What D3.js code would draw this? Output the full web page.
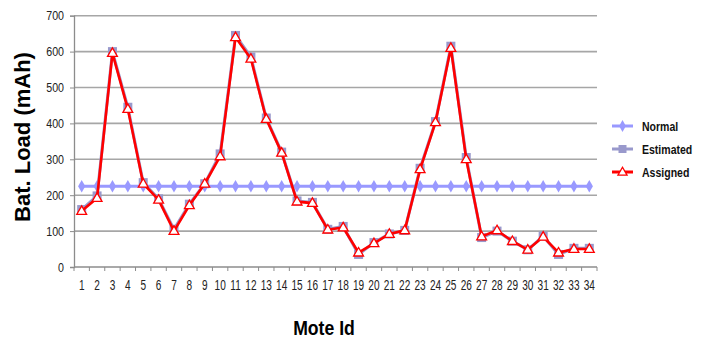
<!DOCTYPE html>
<meta charset="utf-8">
<style>
  body { margin: 0; background: #fff; }
  svg { display: block; }
</style>
<svg width="705" height="340"></svg>

<script src="https://d3js.org/d3.v7.min.js"></script>
<script>
var moteIds = [1,2,3,4,5,6,7,8,9,10,11,12,13,14,15,16,17,18,19,20,21,22,23,24,25,26,27,28,29,30,31,32,33,34]
var normal = [225,225,225,225,225,225,225,225,225,225,225,225,225,225,225,225,225,225,225,225,225,225,225,225,225,225,225,225,225,225,225,225,225,225]
var estimated = [160,198,600,445,235,190,105,175,232,315,645,585,415,320,184,180,105,113,35,68,92,102,275,405,615,305,82,100,72,48,86,35,52,52]
var assigned = [156,192,596,440,232,187,100,172,232,308,640,580,412,318,182,178,104,110,40,66,92,102,272,403,610,300,85,102,72,48,84,40,50,50]
var yTicks = [0,100,200,300,400,500,600,700]

// no narrow font installed, so squeeze Liberation Sans sideways
var font = "'Liberation Sans', Arial, sans-serif"

var svg = d3.select('svg')

var x = d3.scaleBand().domain(moteIds).range([74, 597])
var y = d3.scaleLinear().domain([0, 700]).range([267, 15.7])
function cx(d, i) { return x(moteIds[i]) + x.bandwidth() / 2 }

// grid
svg.append('g').selectAll('line')
  .data(yTicks.slice(1))
  .enter().append('line')
    .attr('x1', 74).attr('x2', 597)
    .attr('y1', function (d) { return y(d) }).attr('y2', function (d) { return y(d) })
    .attr('stroke', '#a6a6a6').attr('stroke-width', 1.6)

// y axis
var yAxis = svg.append('g')
  .attr('transform', 'translate(74,0)')
  .call(d3.axisLeft(y).tickValues(yTicks).tickSize(4).tickPadding(0))
yAxis.select('.domain').attr('stroke', '#8c8c8c').attr('stroke-width', 1.3)
yAxis.selectAll('.tick line').attr('stroke', '#8c8c8c')
yAxis.selectAll('text')
  .attr('x', null)
  .attr('transform', 'translate(-10,0) scale(0.82,1)')
  .attr('font-family', font).attr('font-size', 13).attr('fill', '#222')

// x axis, ticks between categories
var xAxis = svg.append('g').attr('transform', 'translate(0,267)')
xAxis.append('line').attr('x1', 74).attr('x2', 597).attr('stroke', '#8c8c8c').attr('stroke-width', 1.3)
xAxis.selectAll('.tk')
  .data(moteIds.concat([35]))
  .enter().append('line')
    .attr('x1', function (d, i) { return 74 + i * x.step() })
    .attr('x2', function (d, i) { return 74 + i * x.step() })
    .attr('y1', 0).attr('y2', 4)
    .attr('stroke', '#8c8c8c')
xAxis.selectAll('text')
  .data(moteIds)
  .enter().append('text')
    .attr('transform', function (d) { return 'translate(' + (x(d) + x.bandwidth() / 2) + ',22.5) scale(0.72,1)' })
    .attr('text-anchor', 'middle')
    .attr('font-family', font).attr('font-size', 14).attr('fill', '#222')
    .text(function (d) { return d })

var line = d3.line().x(cx).y(function (d) { return y(d) })

// Normal
svg.append('path').datum(normal)
  .attr('d', line).attr('fill', 'none').attr('stroke', '#9999ff').attr('stroke-width', 3)
svg.append('g').selectAll('path')
  .data(normal)
  .enter().append('path')
    .attr('d', d3.symbol().type(d3.symbolDiamond).size(45))
    .attr('transform', function (d, i) { return 'translate(' + cx(d, i) + ',' + y(d) + ')' })
    .attr('fill', '#9999ff')

// Estimated
svg.append('path').datum(estimated)
  .attr('d', line).attr('fill', 'none').attr('stroke', '#9999cc').attr('stroke-width', 3)
svg.append('g').selectAll('rect')
  .data(estimated)
  .enter().append('rect')
    .attr('x', function (d, i) { return cx(d, i) - 4.5 })
    .attr('y', function (d) { return y(d) - 4.5 })
    .attr('width', 9).attr('height', 9)
    .attr('fill', '#9999cc')

// Assigned
svg.append('path').datum(assigned)
  .attr('d', line).attr('fill', 'none').attr('stroke', '#ff0000').attr('stroke-width', 2.6)
svg.append('g').selectAll('path')
  .data(assigned)
  .enter().append('path')
    .attr('d', d3.symbol().type(d3.symbolTriangle).size(42))
    .attr('transform', function (d, i) { return 'translate(' + cx(d, i) + ',' + (y(d) + 0.5) + ')' })
    .attr('fill', '#fff').attr('stroke', '#ff0000').attr('stroke-width', 1.3)

// legend
var legend = [
  { name: 'Normal', color: '#9999ff' },
  { name: 'Estimated', color: '#9999cc' },
  { name: 'Assigned', color: '#ff0000' }
]
var lg = svg.append('g').selectAll('g')
  .data(legend)
  .enter().append('g')
    .attr('transform', function (d, i) { return 'translate(612,' + (126 + i * 23) + ')' })
lg.append('line').attr('x1', 0).attr('x2', 21)
  .attr('stroke', function (d) { return d.color }).attr('stroke-width', 3)
lg.each(function (d, i) {
  var g = d3.select(this)
  if (i === 0) g.append('path').attr('d', d3.symbol().type(d3.symbolDiamond).size(40)).attr('transform', 'translate(10.5,0)').attr('fill', d.color)
  if (i === 1) g.append('rect').attr('x', 6.5).attr('y', -4).attr('width', 8).attr('height', 8).attr('fill', d.color)
  if (i === 2) g.append('path').attr('d', d3.symbol().type(d3.symbolTriangle).size(36)).attr('transform', 'translate(10.5,0.5)').attr('fill', '#fff').attr('stroke', d.color).attr('stroke-width', 1.3)
})
lg.append('text')
  .attr('transform', 'translate(30,5) scale(0.78,1)')
  .attr('font-family', font).attr('font-weight', 'bold').attr('font-size', 13.5).attr('fill', '#111')
  .text(function (d) { return d.name })

// titles
svg.append('text')
  .attr('transform', 'translate(30,137) rotate(-90)')
  .attr('text-anchor', 'middle')
  .attr('font-family', font).attr('font-weight', 'bold').attr('font-size', 22)
  .attr('fill', '#000')
  .text('Bat. Load (mAh)')
svg.append('text')
  .attr('transform', 'translate(324,335) scale(0.84,1)')
  .attr('text-anchor', 'middle')
  .attr('font-family', font).attr('font-weight', 'bold').attr('font-size', 21)
  .attr('fill', '#000')
  .text('Mote Id')
</script>
